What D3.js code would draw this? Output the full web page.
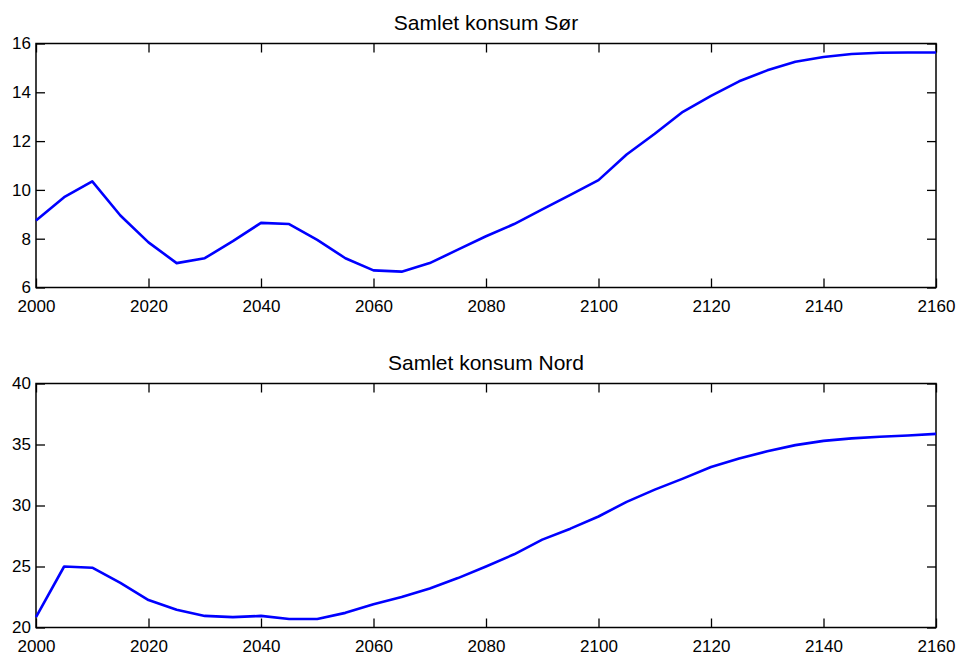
<!DOCTYPE html>
<html>
<head>
<meta charset="utf-8">
<script src="https://cdn.jsdelivr.net/npm/d3@7"></script>
<style>
  body { margin: 0; background: #fff; }
  svg text { font-family: "Liberation Sans", Arial, sans-serif; fill: #000; }
</style>
</head>
<body>
<svg id="chart" width="959" height="653"></svg>
<script>
var years = d3.range(2000, 2161, 5);

var sorValues = [8.75, 9.7, 10.35, 8.95, 7.85, 7.0, 7.2, 7.9, 8.65, 8.6,
  7.95, 7.2, 6.7, 6.65, 7.0, 7.55, 8.1, 8.6, 9.2, 9.8,
  10.4, 11.45, 12.3, 13.2, 13.85, 14.45, 14.9, 15.25, 15.45, 15.57,
  15.62, 15.63, 15.63];

var nordValues = [20.85, 25.0, 24.9, 23.65, 22.25, 21.45, 20.95, 20.85, 20.95, 20.7,
  20.7, 21.2, 21.9, 22.5, 23.2, 24.05, 25.0, 26.0, 27.2, 28.1,
  29.1, 30.3, 31.3, 32.2, 33.15, 33.85, 34.45, 34.95, 35.3, 35.5,
  35.63, 35.74, 35.87];

var xTicks = d3.range(2000, 2161, 20);
var sorTicks = [6, 8, 10, 12, 14, 16];
var nordTicks = [20, 25, 30, 35, 40];

var panels = [
  { title: "Samlet konsum Sør", values: sorValues, domain: [6, 16], ticks: sorTicks, top: 43.5, bottom: 287.5 },
  { title: "Samlet konsum Nord", values: nordValues, domain: [20, 40], ticks: nordTicks, top: 383.5, bottom: 627.5 }
];

var left = 36, right = 936, tickLen = 9;
var svg = d3.select("#chart");

var x = d3.scaleLinear().domain([2000, 2160]).range([left, right]);

panels.forEach(function(p) {
  var y = d3.scaleLinear().domain(p.domain).range([p.bottom, p.top]);
  var g = svg.append("g");

  g.append("text")
      .attr("x", (left + right) / 2)
      .attr("y", p.top - 14)
      .attr("text-anchor", "middle")
      .style("font-size", "21px")
      .text(p.title);

  // bottom axis with labels, inward ticks
  var xb = g.append("g")
      .attr("transform", "translate(0," + p.bottom + ")")
      .call(d3.axisBottom(x).tickValues(xTicks).tickFormat(d3.format("d"))
        .tickSizeInner(-tickLen).tickSizeOuter(0).tickPadding(12));
  // top axis, ticks only
  var xt = g.append("g")
      .attr("transform", "translate(0," + p.top + ")")
      .call(d3.axisTop(x).tickValues(xTicks).tickFormat("")
        .tickSizeInner(-tickLen).tickSizeOuter(0));
  var yl = g.append("g")
      .attr("transform", "translate(" + left + ",0)")
      .call(d3.axisLeft(y).tickValues(p.ticks).tickFormat(d3.format("d"))
        .tickSizeInner(-tickLen).tickSizeOuter(0).tickPadding(5));
  var yr = g.append("g")
      .attr("transform", "translate(" + right + ",0)")
      .call(d3.axisRight(y).tickValues(p.ticks).tickFormat("")
        .tickSizeInner(-tickLen).tickSizeOuter(0));

  [xb, xt, yl, yr].forEach(function(a) {
    a.select(".domain").remove();
    a.selectAll("line").attr("stroke", "#000").attr("stroke-width", 1.3);
    a.selectAll("text").style("font-size", "17px").attr("fill", "#000");
  });

  g.append("rect")
      .attr("x", left).attr("y", p.top)
      .attr("width", right - left).attr("height", p.bottom - p.top)
      .attr("fill", "none").attr("stroke", "#000").attr("stroke-width", 1.5);

  var line = d3.line()
      .x(function(d, i) { return x(years[i]); })
      .y(function(d) { return y(d); });

  g.append("path")
      .datum(p.values)
      .attr("d", line)
      .attr("fill", "none")
      .attr("stroke", "#0000ff")
      .attr("stroke-width", 2.6)
      .attr("stroke-linejoin", "round");
});
</script>
</body>
</html>
